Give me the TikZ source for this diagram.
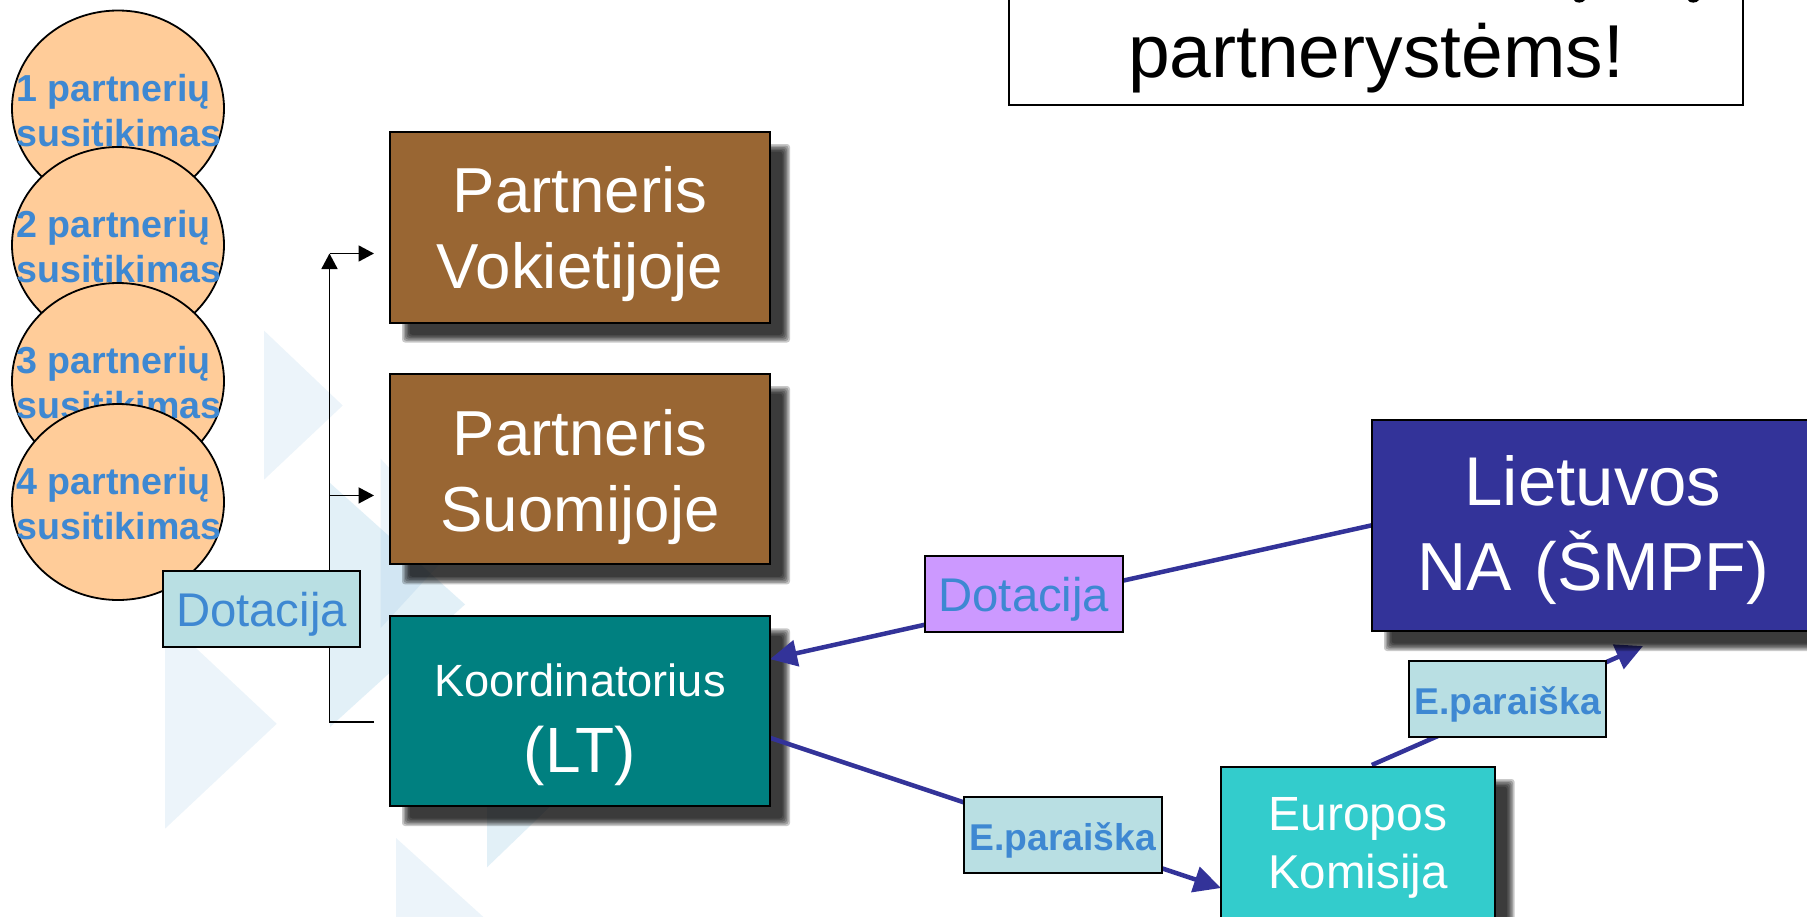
\documentclass[tikz,border=0pt]{standalone}
\usepackage{fontspec}
\setmainfont{Liberation Sans}
\usetikzlibrary{arrows.meta,calc,shapes.geometric}
\definecolor{brownbox}{HTML}{996633}
\definecolor{tealbox}{HTML}{008080}
\definecolor{navybox}{HTML}{333399}
\definecolor{turqbox}{HTML}{33CCCC}
\definecolor{lightbox}{HTML}{B9DFE3}
\definecolor{purplebox}{HTML}{CC99FF}
\definecolor{orangeball}{HTML}{FFCC99}
\definecolor{labelblue}{HTML}{3E88D2}
\definecolor{trione}{HTML}{2C82C9}
\definecolor{tritwo}{HTML}{3399CC}
\pgfdeclarelayer{tri}\pgfdeclarelayer{low}\pgfdeclarelayer{shad}\pgfdeclarelayer{mid}
\pgfsetlayers{tri,low,shad,mid,main}
\newcommand{\tp}[1]{\rule{0pt}{#1pt}}
\newcommand{\bt}[1]{\rule[-#1pt]{0pt}{#1pt}}
\newcommand{\fsz}[2]{\fontsize{#1}{#2}\selectfont}
\newcommand{\balltext}[1]{\smash{\makebox[0pt][l]{\hspace{-101.5pt}\raisebox{7.5pt}{#1 partnerių}}\makebox[0pt][l]{\hspace{-101.5pt}\raisebox{-37.5pt}{susitikimas}}}}
\newcommand{\softshadow}[1]{\foreach \d in {4,2.5,1,-0.5,-2,-3.5} {\fill[black,opacity=.21,rounded corners=3pt] ($(#1.north west)+(16-\d,16-\d)$) rectangle ($(#1.south east)+(16+\d,16+\d)$);}}
\tikzset{
  boxbase/.style={draw=black,line width=2pt,anchor=north west,inner sep=0pt,outer sep=0pt,align=center},
  whitetext/.style={boxbase,text=white},
  tagbox/.style={boxbase,text=labelblue,fill=lightbox},
  ball/.style={ellipse,draw=black,line width=1.8pt,fill=orangeball,inner sep=0pt,minimum width=212pt,minimum height=196pt,text=labelblue,font=\fsz{37.6}{44}\bfseries},
  blueline/.style={draw=navybox,line width=4.5pt,-{Triangle[length=27pt,width=26pt]}},
  blackline/.style={draw=black,line width=1.8pt},
  blacktip/.style={-{Triangle[length=15.5pt,width=16pt]}},
  tria/.style={fill=trione,opacity=.085},
  trib/.style={fill=tritwo,opacity=.14}
}
\begin{document}
\begin{tikzpicture}[x=1pt,y=-1pt]
\useasboundingbox (0,0) rectangle (1807,916);
\begin{pgfonlayer}{tri}
  \fill[white] (0,0) rectangle (1807,916);
  \fill[tria] (264,330.6) -- (342.7,405.5) -- (264,479.7) -- cycle;
  \fill[tria] (165,619) -- (276.7,723.8) -- (165,828.7) -- cycle;
  \fill[trib] (330,483) -- (465,604.4) -- (330,727) -- cycle;
  \fill[tria] (380.7,458.8) -- (459,543) -- (380.7,628) -- cycle;
  \fill[trib] (487,640) -- (640,720) -- (487,867.3) -- cycle;
  \fill[tria] (396,838) -- (531,960) -- (396,1082) -- cycle;
\end{pgfonlayer}

% balls
\node[ball] (b1) at (118,108.5) {\balltext{1}};
\node[ball] (b2) at (118,245) {\balltext{2}};
\node[ball] (b3) at (118,381) {\balltext{3}};
\node[ball] (b4) at (118,502) {\balltext{4}};

% boxes
\node[boxbase,fill=white,text=black,text width=734pt,font=\fsz{75}{90}] (msg) at (1009,-100) {\tp{177.3}partnerystėms!\bt{27.7}};
\node[whitetext,fill=brownbox,text width=380pt,font=\fsz{63.6}{76}] (p1) at (390,132) {\tp{80.5}Partneris\\Vokietijoje\bt{34}};
\node[whitetext,fill=brownbox,text width=380pt,font=\fsz{63.6}{76}] (p2) at (390,374) {\tp{81}Partneris\\Suomijoje\bt{33.4}};
\node[whitetext,fill=tealbox,text width=380pt,font=\fsz{45.2}{76}] (koord) at (390,616.3) {\tp{79.7}Koordinatorius\\\fsz{64}{76}(LT)\bt{34}};
\node[whitetext,fill=navybox,text width=442pt,font=\fsz{69}{85}] (na) at (1372,419.5) {\tp{85.5}Lietuvos\\\fsz{68}{85}NA (ŠMPF)\bt{41}};
\node[whitetext,fill=turqbox,text width=273.6pt,font=\fsz{48}{58.5}] (euro) at (1221,767) {\tp{63}Europos\\\fsz{47.5}{58.5}Komisija\bt{71.5}};

% tags
\node[tagbox,text width=197pt,font=\fsz{47.3}{56}] (dot1) at (163,571.3) {\tp{54.7}Dotacija\bt{20.7}};
\node[tagbox,fill=purplebox,text width=197.7pt,font=\fsz{47.3}{56}] (dot2) at (925,555.6) {\tp{56}Dotacija\bt{19.9}};
\node[tagbox,text width=197.5pt,font=\fsz{37.3}{44}\bfseries] (ep1) at (964,797.4) {\tp{52.6}E.paraiška\bt{23.3}};
\node[tagbox,text width=197pt,font=\fsz{37.3}{44}\bfseries] (ep2) at (1409,661.3) {\tp{52.7}E.paraiška\bt{23.2}};

% clipped descenders of the line above the visible one
\fill[black] (1574,0) .. controls (1575,3.5) and (1583,3.5) .. (1585,0) -- cycle;
\fill[black] (1688,0) .. controls (1689,3.5) and (1697,3.5) .. (1699,0) -- cycle;

% connector ends
\coordinate (kout) at ($(koord.west)+(-16,10.85)$);
\coordinate (t1) at ($(p1.west)+(-16,26.25)$);
\coordinate (t2) at ($(p2.west)+(-16,26.25)$);
\coordinate (trunk) at (329.5,722);

\begin{pgfonlayer}{low}
  \draw[blueline] ($(euro.north)+(14,-2)$) -- ($(na.south)+(50,15)$);
\end{pgfonlayer}
\begin{pgfonlayer}{shad}
  \softshadow{p1}\softshadow{p2}\softshadow{koord}\softshadow{na}\softshadow{euro}
\end{pgfonlayer}
\begin{pgfonlayer}{mid}
  \draw[blackline,blacktip] (kout) -- (trunk) -- (trunk |- t1);
  \draw[blackline,blacktip] (trunk |- t1) -- (t1);
  \draw[blackline,blacktip] (trunk |- t2) -- (t2);
  \draw[blueline] (na.west) -- ($(koord.east)+(0,-52)$);
  \draw[blueline] ($(koord.east)+(-2,26)$) -- ($(euro.west)+(0,24.5)$);
\end{pgfonlayer}
\end{tikzpicture}
\end{document}
